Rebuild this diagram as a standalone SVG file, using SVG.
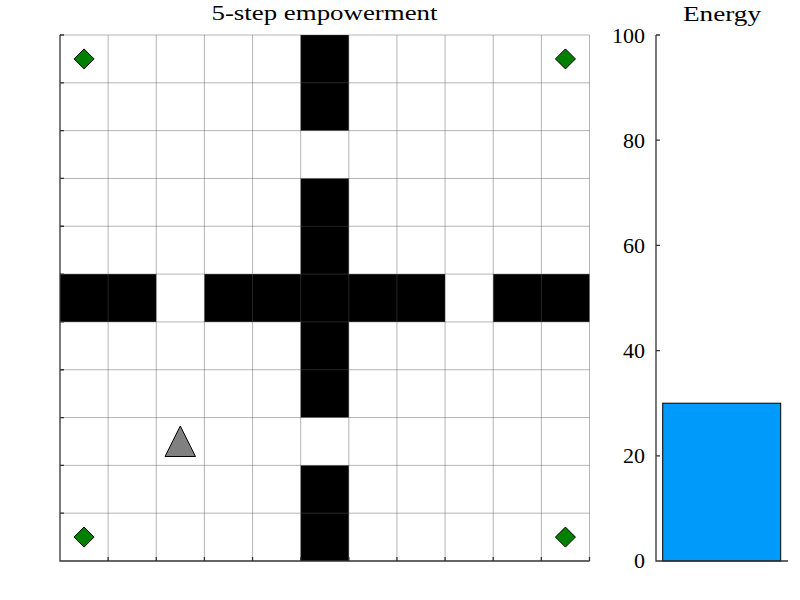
<svg xmlns="http://www.w3.org/2000/svg" width="800" height="600" viewBox="0 0 800 600">
<style>
.wall{fill:#000}
.grid{stroke:#555;stroke-opacity:0.55;stroke-width:0.8;fill:none}
.axis{stroke:#333;stroke-width:1.3;fill:none}
.lbl{font-family:"Liberation Serif","DejaVu Serif",serif;font-size:22px;fill:#000}
.goal{fill:#008000;stroke:#000;stroke-width:1}
</style>
<defs>
<path id="dia" d="M0,-10 L10,0 L0,10 L-10,0 Z"/>
</defs>
<rect width="800" height="600" fill="#fff"/>
<text class="lbl" x="324.5" y="20" text-anchor="middle" textLength="226" lengthAdjust="spacingAndGlyphs">5-step empowerment</text>
<text class="lbl" x="722" y="21" text-anchor="middle" textLength="78" lengthAdjust="spacingAndGlyphs">Energy</text>
<g id="walls">
<rect class="wall" x="300.68" y="35" width="48.14" height="95.64"/>
<rect class="wall" x="300.68" y="178.45" width="48.14" height="239.1"/>
<rect class="wall" x="300.68" y="465.36" width="48.14" height="95.64"/>
<rect class="wall" x="60" y="274.09" width="96.27" height="47.82"/>
<rect class="wall" x="204.41" y="274.09" width="240.68" height="47.82"/>
<rect class="wall" x="493.23" y="274.09" width="96.27" height="47.82"/>
</g>
<g id="gridlines" class="grid">
<path d="M108.14,35V561M156.27,35V561M204.41,35V561M252.55,35V561M300.68,35V561M348.82,35V561M396.95,35V561M445.09,35V561M493.23,35V561M541.36,35V561M589.5,35V561"/>
<path d="M60,35H589.5M60,82.82H589.5M60,130.64H589.5M60,178.45H589.5M60,226.27H589.5M60,274.09H589.5M60,321.91H589.5M60,369.73H589.5M60,417.55H589.5M60,465.36H589.5M60,513.18H589.5"/>
</g>
<g id="grid-axes" class="axis">
<path d="M60,35V561H589.5"/>
<path d="M60,35h4M60,82.82h4M60,130.64h4M60,178.45h4M60,226.27h4M60,274.09h4M60,321.91h4M60,369.73h4M60,417.55h4M60,465.36h4M60,513.18h4"/>
<path d="M108.14,561v-4M156.27,561v-4M204.41,561v-4M252.55,561v-4M300.68,561v-4M348.82,561v-4M396.95,561v-4M445.09,561v-4M493.23,561v-4M541.36,561v-4M589.5,561v-4"/>
</g>
<g id="goal-tl"><use href="#dia" class="goal" x="84.07" y="58.91"/></g>
<g id="goal-tr"><use href="#dia" class="goal" x="565.43" y="58.91"/></g>
<g id="goal-bl"><use href="#dia" class="goal" x="84.07" y="537.09"/></g>
<g id="goal-br"><use href="#dia" class="goal" x="565.43" y="537.09"/></g>
<g id="agent"><path d="M180.3,426 L195.5,456.5 L165,456.5 Z" fill="#808080" stroke="#000" stroke-width="1"/></g>
<g id="connectors"></g>
<g id="energy-bar">
<rect x="662.7" y="403.2" width="118" height="157.8" fill="#009afa" stroke="#000" stroke-width="1"/>
</g>
<g id="energy-axes">
<path class="axis" d="M656,35V561H788"/>
<path class="axis" d="M656,35h4M656,140.2h4M656,245.4h4M656,350.6h4M656,455.8h4"/>
<g class="lbl" text-anchor="end">
<text x="645" y="43">100</text>
<text x="645" y="148">80</text>
<text x="645" y="253">60</text>
<text x="645" y="358">40</text>
<text x="645" y="463">20</text>
<text x="645" y="568">0</text>
</g>
</g>
</svg>
